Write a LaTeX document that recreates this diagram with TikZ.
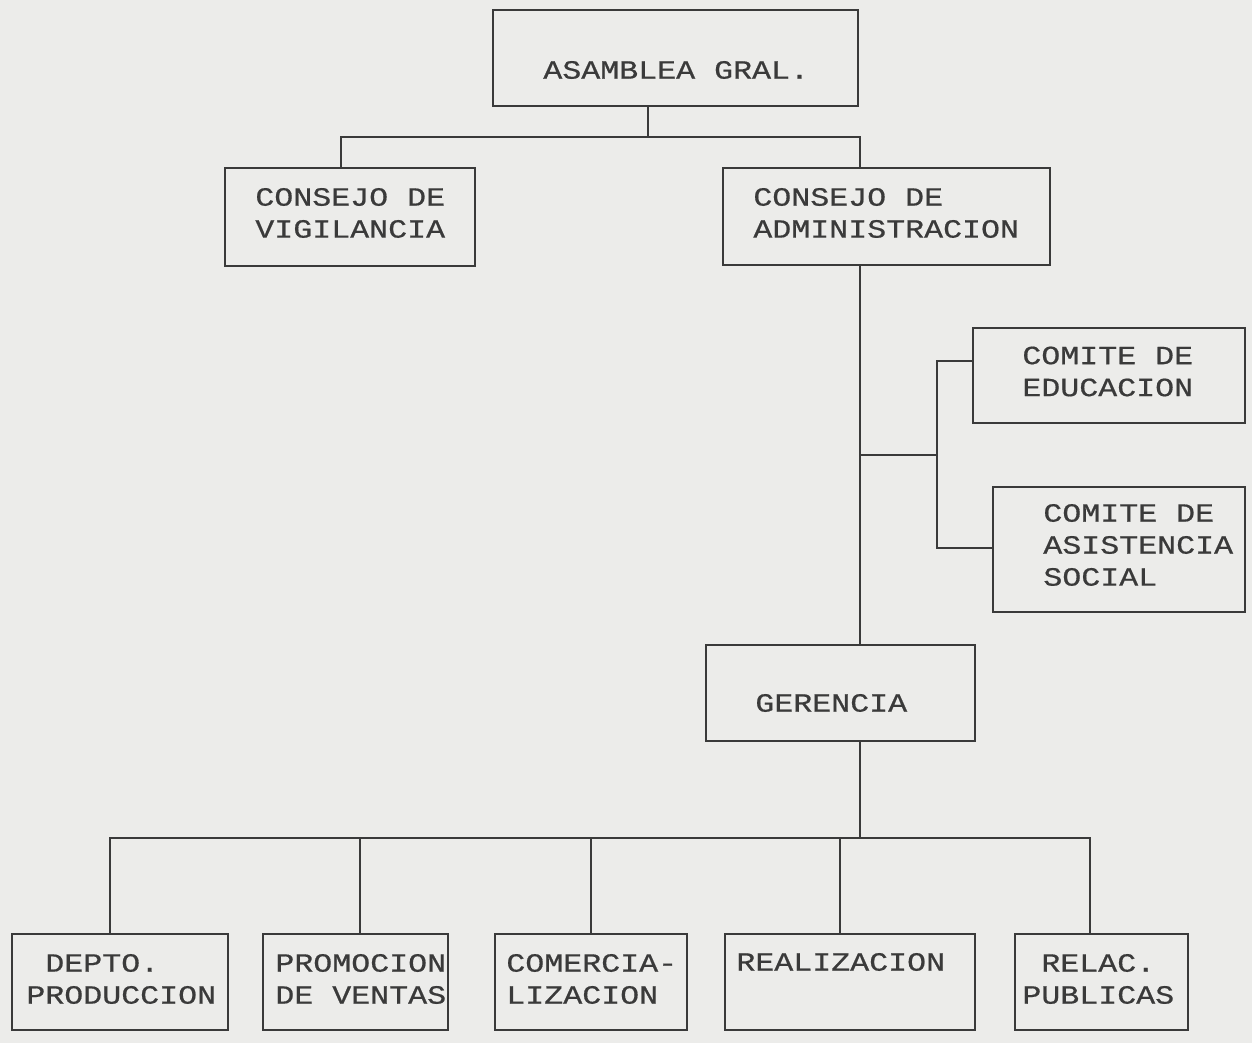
\documentclass[tikz,border=0pt]{standalone}
\usepackage{fontspec}
\newfontfamily\plotfont[FakeStretch=1.2,FakeBold=0.6]{Liberation Mono}
\definecolor{paper}{HTML}{ECECEA}
\definecolor{ink}{HTML}{3A3A3A}
\begin{document}
\begin{tikzpicture}[x=0.02cm, y=-0.02cm,
  every node/.style={font=\plotfont\fontsize{15pt}{18.2pt}\selectfont, text=ink},
  org/.style 2 args={draw=ink, line width=1.2pt, minimum width=#1*0.02cm, minimum height=#2*0.02cm, inner sep=0pt},
  lbl/.style={anchor=west, align=left, inner sep=0pt},
  link/.style={draw=ink, line width=1.2pt, line cap=rect}]
\fill[paper] (0,0) rectangle (1252,1043);
\useasboundingbox (0,0) rectangle (1252,1043);
% boxes
\node[org={365}{96}] (asamblea) at (675.5,58) {};
\node[org={250}{98}] (vigilancia) at (350,217) {};
\node[org={327}{97}] (admin) at (886.5,216.5) {};
\node[org={272}{95}] (educacion) at (1109,375.5) {};
\node[org={252}{125}] (asistencia) at (1119,549.5) {};
\node[org={269}{96}] (gerencia) at (840.5,693) {};
\node[org={216}{96}] (depto) at (120,982) {};
\node[org={185}{96}] (promocion) at (355.5,982) {};
\node[org={192}{96}] (comercia) at (591,982) {};
\node[org={250}{96}] (realiz) at (850,982) {};
\node[org={173}{96}] (relac) at (1101.5,982) {};
% texts
\node[lbl] (t-asamblea) at (543,70) {ASAMBLEA GRAL.};
\node[lbl] (t-vigilancia) at (255,213) {CONSEJO DE\\VIGILANCIA};
\node[lbl] (t-admin) at (753,213) {CONSEJO DE\\ADMINISTRACION};
\node[lbl] (t-educacion) at (1022,371.5) {COMITE DE\\EDUCACION};
\node[lbl] (t-asistencia) at (1043,545) {COMITE DE\\ASISTENCIA\\SOCIAL};
\node[lbl] (t-gerencia) at (755,703) {GERENCIA};
\node[lbl] (t-depto) at (26,979) {~DEPTO.\\PRODUCCION};
\node[lbl] (t-promocion) at (275,979) {PROMOCION\\DE VENTAS};
\node[lbl] (t-comercia) at (506,979) {COMERCIA-\\LIZACION};
\node[lbl] (t-realiz) at (736,962) {REALIZACION};
\node[lbl] (t-relac) at (1022,979) {~RELAC.\\PUBLICAS};
% connectors
\coordinate (top) at (648,137);
\coordinate (tap) at (860,455);
\coordinate (cmt) at (937,455);
\coordinate (bus) at (860,838);
\draw[link] (asamblea.south -| top) -- (top);
\draw[link] (vigilancia.north -| 341,0) |- (top) -| (admin.north -| 860,0);
\draw[link] (admin.south -| 860,0) -- (gerencia.north -| 860,0);
\draw[link] (tap) -- (cmt);
\draw[link] (educacion.west |- 0,361) -| (cmt) |- (asistencia.west |- 0,548);
\draw[link] (gerencia.south -| bus) -- (bus);
\draw[link] (depto.north -| 110,0) |- (bus) -| (relac.north -| 1090,0);
\foreach \n/\x in {promocion/360,comercia/591,realiz/840}
  \draw[link] (\n.north -| \x,0) -- (bus -| \x,0);
\end{tikzpicture}
\end{document}
